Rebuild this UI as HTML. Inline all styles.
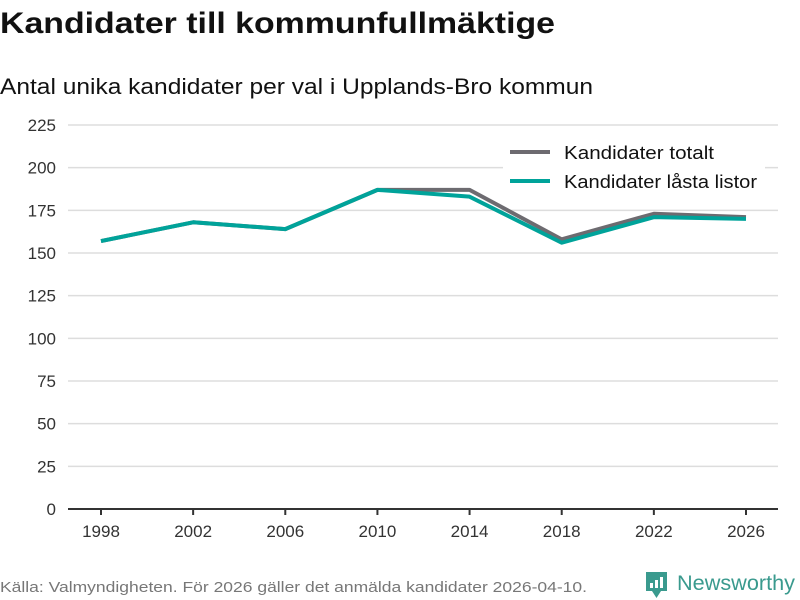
<!DOCTYPE html>
<html><head><meta charset="utf-8"><style>
body{margin:0;background:#fff;}
svg{display:block;font-family:"Liberation Sans","DejaVu Sans",sans-serif;}
</style></head><body>
<svg id="chart" width="800" height="600" viewBox="0 0 800 600">
<text x="0" y="33" font-size="30" font-weight="bold" fill="#111" textLength="555" lengthAdjust="spacingAndGlyphs">Kandidater till kommunfullmäktige</text>
<text x="0" y="94" font-size="22" fill="#111" textLength="593" lengthAdjust="spacingAndGlyphs">Antal unika kandidater per val i Upplands-Bro kommun</text>
<g id="grid"></g>
<g id="lines"></g>
<g>
<rect x="503" y="140" width="262" height="58" fill="#fff"/>
<line x1="510" y1="152" x2="550" y2="152" stroke="#6d6b70" stroke-width="4"/>
<text x="564" y="159" font-size="18" fill="#111" textLength="150" lengthAdjust="spacingAndGlyphs">Kandidater totalt</text>
<line x1="510" y1="181" x2="550" y2="181" stroke="#00a39a" stroke-width="4"/>
<text x="564" y="188" font-size="18" fill="#111" textLength="193" lengthAdjust="spacingAndGlyphs">Kandidater låsta listor</text>
</g>
<text x="0" y="592" font-size="15" fill="#777" textLength="587" lengthAdjust="spacingAndGlyphs">Källa: Valmyndigheten. För 2026 gäller det anmälda kandidater 2026-04-10.</text>
<g>
<path d="M646 572 h21 v19 h-6 l-4.5 7 l-4.5 -7 h-6 z" fill="#3a9a8e"/>
<rect x="650" y="583" width="3" height="5" fill="#fff"/><rect x="655" y="580" width="3" height="8" fill="#fff"/><rect x="660" y="577" width="3" height="11" fill="#fff"/>
<text x="677" y="590" font-size="21" fill="#3a9a8e" textLength="118" lengthAdjust="spacingAndGlyphs">Newsworthy</text>
</g>
</svg>
<script>
const years=["1998","2002","2006","2010","2014","2018","2022","2026"];
const totalt=[157,168,164,187,187,158,173,171];
const lasta=[157,168,164,187,183,156,171,170];
const yTicks=[0,25,50,75,100,125,150,175,200,225];
const NS="http://www.w3.org/2000/svg";
const x0=101,x1=746,yb=509,yt=125,ymax=225;
const xs=i=>x0+(x1-x0)*i/(years.length-1);
const ys=v=>yb-(yb-yt)*v/ymax;
const grid=document.getElementById('grid');
function mk(t,a,p){const e=document.createElementNS(NS,t);for(const k in a)e.setAttribute(k,a[k]);p.appendChild(e);return e;}
yTicks.forEach(v=>{
 if(v>0){const l=mk('line',{x1:68,x2:778,y1:ys(v),y2:ys(v),stroke:'#ddd','stroke-width':1.5},grid);
 
 }
 const t=mk('text',{x:56,y:ys(v)+6,'font-size':17,fill:'#333','text-anchor':'end'},grid);t.textContent=v;
 
 
});
const ax=mk('line',{x1:68,x2:778,y1:yb,y2:yb,stroke:'#333','stroke-width':2},grid);


years.forEach((y,i)=>{
 mk('line',{x1:xs(i),x2:xs(i),y1:yb,y2:yb+6,stroke:'#333','stroke-width':2},grid);
 const t=mk('text',{x:xs(i),y:yb+28,'font-size':17,fill:'#333','text-anchor':'middle'},grid);t.textContent=y;
 
 
});
const lines=document.getElementById('lines');
[[totalt,'#6d6b70','line-totalt'],[lasta,'#00a39a','line-lasta']].forEach(([d,c,n])=>{
 const p=mk('polyline',{points:d.map((v,i)=>xs(i)+','+ys(v)).join(' '),fill:'none',stroke:c,'stroke-width':4,'stroke-linejoin':'round'},lines);
 
 
});
</script>
</body></html>
